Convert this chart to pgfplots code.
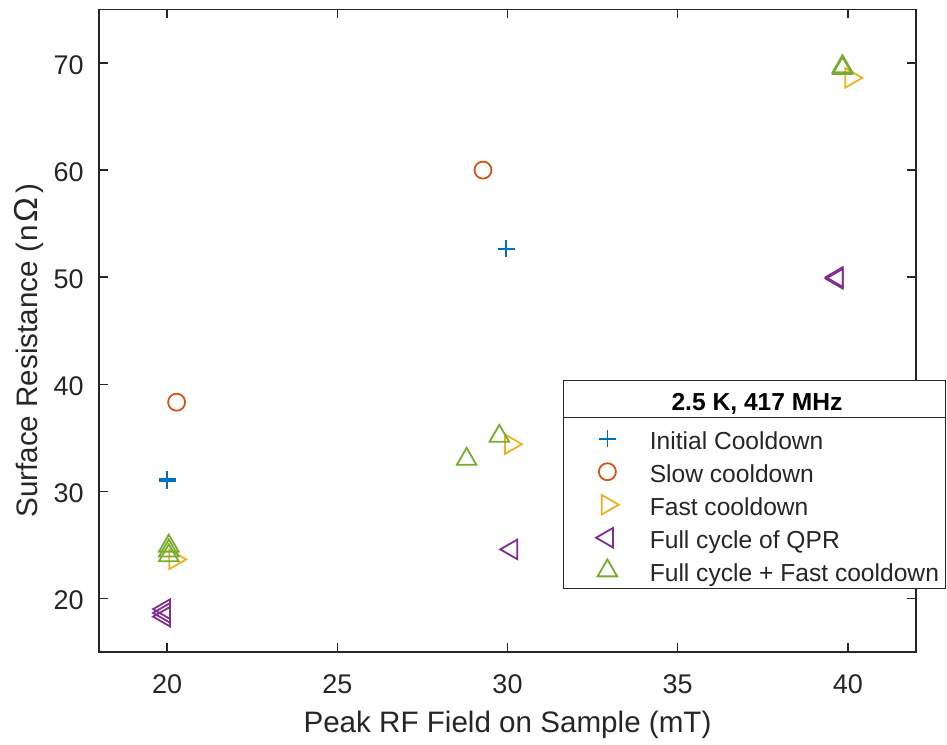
\documentclass[border=0pt]{standalone}
\usepackage{pgfplots}
\pgfplotsset{compat=1.18}
\usepackage{fontspec}
\setmainfont{Liberation Sans}
\definecolor{mblue}{HTML}{0072BD}
\definecolor{morange}{HTML}{D95319}
\definecolor{myellow}{HTML}{EDB120}
\definecolor{mpurple}{HTML}{7E2F8E}
\definecolor{mgreen}{HTML}{77AC30}
\definecolor{axgray}{HTML}{262626}

\pgfplotstableread{
x y
20.0 31.0
20.0 31.15
29.96 52.64
}\initial
\pgfplotstableread{
x y
20.28 38.32
29.28 59.99
}\slow
\pgfplotstableread{
x y
20.23 23.65
30.09 34.4
40.09 68.6
}\fast
\pgfplotstableread{
x y
19.92 19.0
19.92 18.65
19.92 18.3
30.12 24.58
39.68 50.0
39.68 49.85
}\fullqpr
\pgfplotstableread{
x y
20.05 24.9
20.05 24.45
20.05 24.0
28.8 33.0
29.76 35.15
39.84 69.66
39.84 69.48
}\fullfast

\begin{document}
\begin{tikzpicture}
\begin{axis}[
  set layers, clip=false,
  at={(49.5pt,46pt)}, anchor=south west, scale only axis,
  width=408.5pt, height=321.35pt,
  xmin=18, xmax=42, ymin=15, ymax=75,
  xtick={20,25,30,35,40}, ytick={20,30,40,50,60,70},
  tick align=inside, major tick length=4.5pt,
  axis line style={axgray, line width=0.7pt},
  every tick/.style={axgray, line width=0.7pt},
  tick label style={font=\fontsize{13.5}{16}\selectfont, text=axgray, inner sep=0pt},
  /pgf/number format/assume math mode=true,
  xticklabel style={anchor=base, yshift=-20.8pt},
  yticklabel style={anchor=east, xshift=-7.5pt, yshift=-1pt},
  xlabel={Peak RF Field on Sample (mT)},
  ylabel={Surface Resistance (\kern0.8pt n\kern1.2pt\scalebox{1.12}{Ω}\kern2pt)},
  label style={font=\fontsize{14.8}{17}\selectfont, text=axgray, inner sep=0pt},
  xlabel style={at={(axis description cs:0.5,-0.126)}, anchor=base},
  ylabel style={at={(axis description cs:-0.0755,0.2085)}, anchor=base west},
  lgd/.style={legend image code/.code={\path[draw=none,fill=none] (-10pt,-4pt) rectangle (10pt,12pt); \draw[##1] plot coordinates {(0pt,5.5pt)};}},
  legend style={at={(rel axis cs:0.5973,0.3527)}, anchor=north west, draw=none, fill=none,
    inner sep=0pt, row sep=0.5pt, font=\fontsize{12.3}{14}\selectfont, text=axgray,
    nodes={inner sep=0pt, text height=12pt, text depth=4pt, anchor=base west},
    /tikz/every odd column/.append style={column sep=11.2pt}},
  legend cell align=left,
]
\addplot[only marks, mark=+, mblue, mark size=4.25pt, line width=0.9pt, lgd] table {\initial};
\addlegendentry{Initial Cooldown}
\addplot[only marks, mark=o, morange, mark size=4.25pt, line width=0.9pt, lgd] table {\slow};
\addlegendentry{Slow cooldown}
\addplot[only marks, mark=triangle, myellow, mark size=5.65pt, line width=0.9pt, mark options={rotate=-90}, lgd] table {\fast};
\addlegendentry{Fast cooldown}
\addplot[only marks, mark=triangle, mpurple, mark size=5.65pt, line width=0.9pt, mark options={rotate=90}, lgd] table {\fullqpr};
\addlegendentry{Full cycle of QPR}
\addplot[only marks, mark=triangle, mgreen, mark size=5.65pt, line width=0.9pt, lgd] table {\fullfast};
\addlegendentry{Full cycle + Fast cooldown}
\draw[axgray, line width=0.5pt, fill=white] (rel axis cs:0.5683,0.0986) rectangle (rel axis cs:1.0367,0.4228);
\draw[axgray, line width=0.5pt] (rel axis cs:0.5683,0.3641) -- (rel axis cs:1.0367,0.3641);
\node[anchor=base, inner sep=0pt, font=\bfseries\fontsize{12.3}{14}\selectfont, text=black] at (rel axis cs:0.8054,0.3761) {2.5 K, 417 MHz};
\end{axis}
\path (0,0) rectangle (473.5pt,372pt);
\end{tikzpicture}
\end{document}
